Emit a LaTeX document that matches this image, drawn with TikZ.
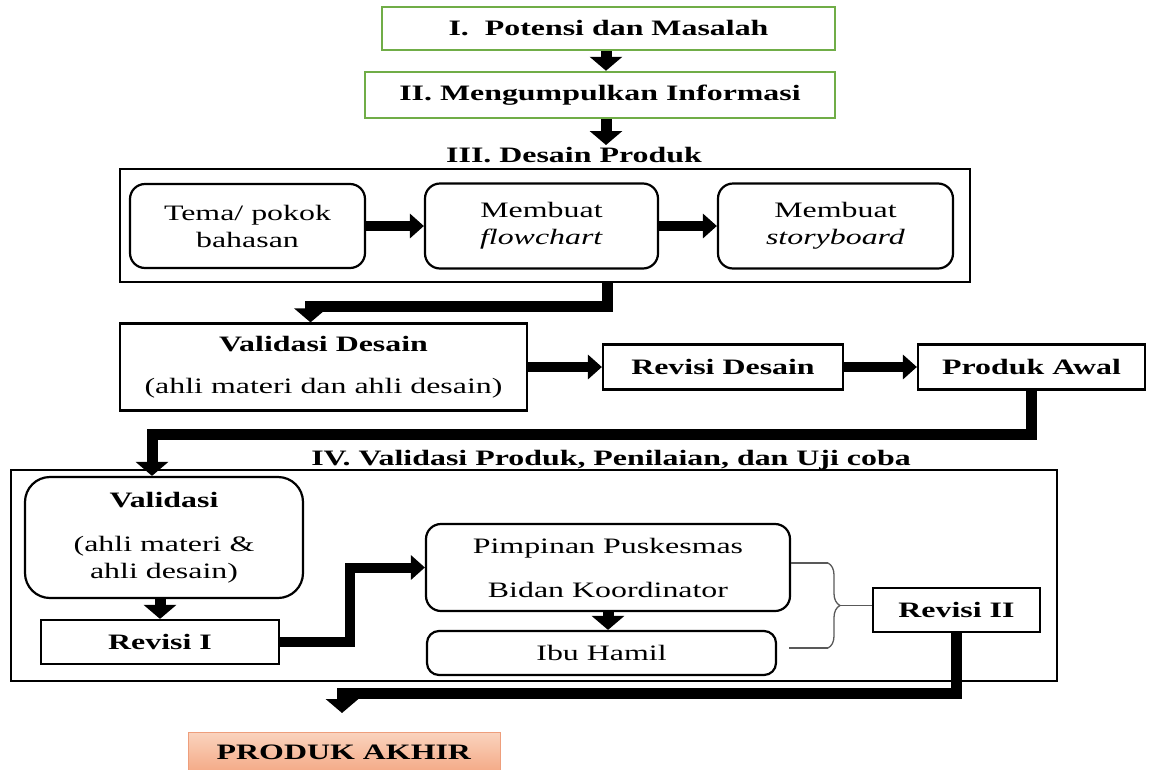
\documentclass[tikz,border=0pt]{standalone}
\usepackage{fontspec}
\setmainfont{Liberation Serif}[FakeStretch=1.45]
\usepackage{tikz}
\usetikzlibrary{arrows.meta, positioning, calc, decorations.pathreplacing}

\definecolor{stepgreen}{HTML}{70AD47}
\definecolor{akhirtop}{HTML}{FAD3BE}
\definecolor{akhirbot}{HTML}{F4A985}
\definecolor{akhirline}{HTML}{EE9E7C}

\tikzset{
  box/.style={draw, line width=2.2pt, fill=white, inner sep=0pt, align=center},
  roundbox/.style={box, rounded corners=15pt},
  greenbox/.style={box, draw=stepgreen, line width=2.5pt},
  frame/.style={draw, line width=2pt, inner sep=0pt},
  akhir/.style={draw=akhirline, line width=1pt, top color=akhirtop, bottom color=akhirbot, inner sep=0pt},
  bigarrow/.style={line width=11pt, -{Triangle[width=32pt,length=14pt]}},
  sidearrow/.style={line width=10pt, -{Triangle[width=24pt,length=14pt]}},
  braceline/.style={draw=black!65, line width=1.3pt}
}

\begin{document}
\begin{tikzpicture}[x=1pt, y=-1pt, every node/.style={font=\fontsize{22}{27}\selectfont}]
\useasboundingbox (0,0) rectangle (1157,769);

%// steps I and II
\node[greenbox, minimum width=453, minimum height=43] (b1) at (608.5,28.5) {\textbf{I.\ \ Potensi dan Masalah}};
\node[greenbox, minimum width=470, minimum height=46] (b2) at (600,95) {\textbf{II. Mengumpulkan Informasi}};
\node[inner sep=2pt] (t3) at (574,155) {\textbf{III. Desain Produk}};

\coordinate (j0) at (606,0);
\draw[bigarrow] (b1.south -| j0) -- (b2.north -| j0);
\draw[bigarrow] (b2.south -| j0) -- (t3.north -| j0);

%// step III
\node[frame, minimum width=850, minimum height=113] (f3) at (545,225.5) {};

\node[roundbox, minimum width=235, minimum height=84] (tema) at (247.5,226) {Tema/ pokok\\bahasan};
\node[roundbox, minimum width=233, minimum height=85] (flow) at (541.5,226) {Membuat\\\textit{flowchart}};
\node[roundbox, minimum width=235, minimum height=85] (story) at (835.5,226) {Membuat\\\textit{storyboard}};

\node[box, minimum width=407, minimum height=87] (vd) at (323.5,367) {\textbf{Validasi Desain}\\[15pt](ahli materi dan ahli desain)};
\node[box, minimum width=240, minimum height=45] (rd) at (723,367) {\textbf{Revisi Desain}};
\node[box, minimum width=227, minimum height=45] (pa) at (1031.5,367) {\textbf{Produk Awal}};

\foreach \a/\b in {tema/flow, flow/story, vd/rd, rd/pa}
\draw[sidearrow] (\a.east) -- (\b.west);

\coordinate (j1) at (607,306);
\draw[bigarrow] (f3.south -| j1) -- (j1) -| ($(vd.north)+(-13,0)$);

%// step IV
\node[inner sep=2pt] (t4) at (611,460) {\textbf{IV. Validasi Produk, Penilaian, dan Uji coba}};
\node[frame, minimum width=1046, minimum height=211] (f4) at (534,575.5) {};

\node[roundbox, rounded corners=25pt, minimum width=278, minimum height=121] (va) at (164,537.5) {\textbf{Validasi}\\[17pt](ahli materi \&\\ahli desain)};
\node[box, minimum width=238, minimum height=44] (r1) at (160,642) {\textbf{Revisi I}};
\node[roundbox, minimum width=364, minimum height=87] (pp) at (608,567.5) {Pimpinan Puskesmas\\[17pt]Bidan Koordinator};
\node[roundbox, rounded corners=12pt, minimum width=349, minimum height=44] (ih) at (601.5,653) {Ibu Hamil};
\node[box, minimum width=167, minimum height=44] (r2) at (956.5,610) {\textbf{Revisi II}};

\coordinate (j2) at (152,434);
\draw[bigarrow] (pa.south) |- (j2) -- (j2 |- va.north);

\draw[bigarrow] (r1.north |- va.south) -- (r1.north);

\coordinate (j3) at (350,600);
\draw[sidearrow] (r1.east) -| (j3) |- (pp.west);

\draw[bigarrow] (pp.south) -- (pp.south |- ih.north);

%// brace to Revisi II
\coordinate (bt) at (828,563);
\coordinate (bb) at (828,648);
\draw[braceline] (pp.east |- bt) -- (bt);
\draw[braceline] ($(ih.east |- bb)+(12,0)$) -- (bb);
\draw[braceline, decorate, decoration={brace, amplitude=12pt}] (bt) -- (bb);
\coordinate (bm) at ($(bt)!0.5!(bb)+(12,0)$);
\draw[braceline] (bm) -- (bm -| r2.west);

%// final product
\node[akhir, minimum width=312, minimum height=41] (pk) at (344,752.5) {\textbf{PRODUK AKHIR}};

\coordinate (j4) at (342,693);
\coordinate (j5) at (342,713);
\draw[bigarrow] (r2.south) |- (j4) -- (j5);

\end{tikzpicture}
\end{document}
